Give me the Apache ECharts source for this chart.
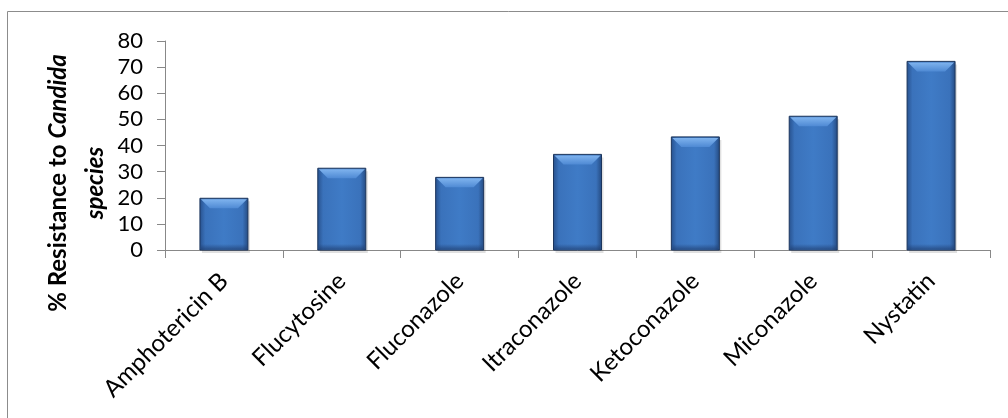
<!DOCTYPE html>
<html>
<head>
<meta charset="utf-8">
<script src="https://cdn.jsdelivr.net/npm/echarts@6/dist/echarts.min.js"></script>
<style>html,body{margin:0;padding:0;background:#fff}#c{width:1008px;height:418px}</style>
</head>
<body>
<div id="c"></div>
<script>
const categories = ['Amphotericin B', 'Flucytosine', 'Fluconazole', 'Itraconazole', 'Ketoconazole', 'Miconazole', 'Nystatin'];
const resistance = [19.8, 31.3, 27.8, 36.6, 43.3, 51.2, 72.2];
const yTicks = [0, 10, 20, 30, 40, 50, 60, 70, 80];

const chart = echarts.init(document.getElementById('c'));
const FONT = 'Lato';
const barW = 48;

chart.setOption({
  animation: false,
  backgroundColor: '#fff',
  grid: { left: 165, top: 41, right: 18, bottom: 168, containLabel: false },
  xAxis: {
    type: 'category',
    data: categories,
    boundaryGap: true,
    axisLine: { lineStyle: { color: '#888888', width: 1 } },
    axisTick: { show: true, length: 8, lineStyle: { color: '#888888' } },
    axisLabel: { rotate: 45, margin: 27, fontFamily: FONT, fontSize: 24, color: '#000' }
  },
  yAxis: {
    type: 'value',
    min: yTicks[0], max: yTicks[yTicks.length - 1], interval: 10,
    axisLine: { show: true, lineStyle: { color: '#888888', width: 1 } },
    axisTick: { show: true, length: 8, lineStyle: { color: '#888888' } },
    axisLabel: { margin: 22, fontFamily: FONT, fontSize: 22, color: '#000' },
    splitLine: { show: false }
  },
  series: [{
    type: 'custom',
    data: resistance.map(function (v, i) { return [i, v]; }),
    encode: { x: 0, y: 1 },
    renderItem: function (params, api) {
      const top = api.coord([api.value(0), api.value(1)]);
      const base = api.coord([api.value(0), 0]);
      const x = top[0] - barW / 2, y = top[1], h = base[1] - top[1];
      const bev = 10;
      return {
        type: 'group',
        children: [
          { type: 'rect', shape: { x: x + 2, y: y + 3, width: barW, height: h },
            style: { fill: 'rgba(0,0,0,0.12)' } },
          { type: 'rect', shape: { x: x, y: y, width: barW, height: h },
            style: { fill: new echarts.graphic.LinearGradient(0, 0, 1, 0, [
              { offset: 0, color: '#27508c' }, { offset: 0.12, color: '#3a72bb' },
              { offset: 0.5, color: '#3f7bc6' }, { offset: 0.88, color: '#3a72bb' },
              { offset: 1, color: '#24497f' }]), stroke: '#1c355c', lineWidth: 1 } },
          { type: 'polygon', shape: { points: [[x + 1, y + 1], [x + barW - 1, y + 1], [x + barW - bev, y + bev], [x + bev, y + bev]] },
            style: { fill: new echarts.graphic.LinearGradient(0, 0, 0, 1, [
              { offset: 0, color: '#7fb3ee' }, { offset: 1, color: '#4f8ad4' }]) } },
          { type: 'rect', shape: { x: x + 1, y: base[1] - 6, width: barW - 2, height: 5 },
            style: { fill: new echarts.graphic.LinearGradient(0, 0, 0, 1, [
              { offset: 0, color: 'rgba(30,60,110,0)' }, { offset: 1, color: 'rgba(30,60,110,0.6)' }]) } }
        ]
      };
    }
  }],
  graphic: [
    { type: 'rect', shape: { x: 7.5, y: 11.5, width: 1020, height: 430 },
      style: { fill: 'none', stroke: '#8c8c8c', lineWidth: 1 }, silent: true, z: -1 },
    { type: 'text', x: 58, y: 183, rotation: Math.PI / 2,
      style: { text: '{b|% Resistance to }{bi|Candida}', align: 'center', verticalAlign: 'middle',
        rich: { b: { fontFamily: FONT, fontWeight: 'bold', fontSize: 24, fill: '#000' },
                bi: { fontFamily: FONT, fontWeight: 'bold', fontStyle: 'italic', fontSize: 24, fill: '#000' } } } },
    { type: 'text', x: 95, y: 183, rotation: Math.PI / 2,
      style: { text: 'species', align: 'center', verticalAlign: 'middle',
        fontFamily: FONT, fontWeight: 'bold', fontStyle: 'italic', fontSize: 24, fill: '#000' } }
  ]
});
</script>
</body>
</html>
